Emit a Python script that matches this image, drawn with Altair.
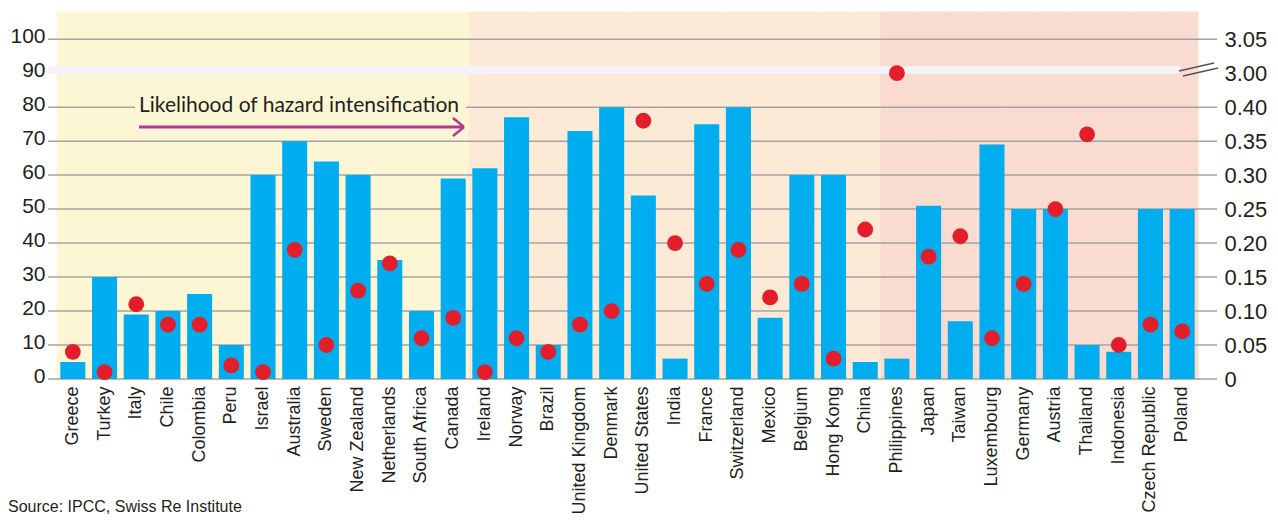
import altair as alt
import pandas as pd

countries = ["Greece", "Turkey", "Italy", "Chile", "Colombia", "Peru", "Israel", "Australia",
             "Sweden", "New Zealand", "Netherlands", "South Africa", "Canada",
             "Ireland", "Norway", "Brazil", "United Kingdom", "Denmark", "United States", "India",
             "France", "Switzerland", "Mexico", "Belgium", "Hong Kong", "China",
             "Philippines", "Japan", "Taiwan", "Luxembourg", "Germany", "Austria", "Thailand",
             "Indonesia", "Czech Republic", "Poland"]
bar_values = [5, 30, 19, 20, 25, 10, 60, 70, 64, 60, 35, 20, 59,
              62, 77, 10, 73, 80, 54, 6, 75, 80, 18, 60, 60, 5,
              6, 51, 17, 69, 50, 50, 10, 8, 50, 50]
dot_values = [0.04, 0.01, 0.11, 0.08, 0.08, 0.02, 0.01, 0.19, 0.05, 0.13, 0.17, 0.06, 0.09,
              0.01, 0.06, 0.04, 0.08, 0.10, 0.38, 0.20, 0.14, 0.19, 0.12, 0.14, 0.03, 0.22,
              3.00, 0.18, 0.21, 0.06, 0.14, 0.25, 0.36, 0.05, 0.08, 0.07]
groups = ["low"] * 13 + ["mid"] * 13 + ["high"] * 10
left_ticks = [0, 10, 20, 30, 40, 50, 60, 70, 80, 90, 100]
grid_values = [0, 10, 20, 30, 40, 50, 60, 70, 80, 100]
right_ticks = [0, 0.05, 0.10, 0.15, 0.20, 0.25, 0.30, 0.35, 0.40, 3.00, 3.05]
annotation = "Likelihood of hazard intensification"
source = "Source: IPCC, Swiss Re Institute"

W, H = 1141, 367
YMAX = 108
px = H / YMAX

SANS = "Liberation Sans, Arial, sans-serif"

df = pd.DataFrame({"country": countries, "bar": bar_values, "dot": dot_values, "group": groups})

x_enc = alt.X("country:N", sort=countries, title=None,
              scale=alt.Scale(paddingInner=0, paddingOuter=0),
              axis=alt.Axis(labelAngle=-90, labelFont=SANS, labelFontSize=18, labelColor="#231F20",
                            labelPadding=7, ticks=False, domain=False, grid=False, labelLimit=300))

left_scale = alt.Scale(domain=[0, YMAX], nice=False, zero=True)
band_colors = alt.Scale(domain=["low", "mid", "high"], range=["#FDF6D5", "#FDEAD6", "#F9DBCF"])

bands = alt.Chart(df).mark_rect(strokeWidth=1).encode(
    x=x_enc,
    y=alt.value(0), y2=alt.value(H),
    fill=alt.Color("group:N", scale=band_colors, legend=None),
    stroke=alt.Color("group:N", scale=band_colors, legend=None),
)

grid = alt.Chart(pd.DataFrame({"g": grid_values})).mark_rule(color="#A3A3A3", strokeWidth=1.5).encode(
    y=alt.Y("g:Q", scale=left_scale, axis=None),
    x=alt.value(-9), x2=alt.value(W + 19),
)

brk = alt.Chart(pd.DataFrame({"a": [1]})).mark_rect(color="#F3F3F8").encode(
    x=alt.value(-9), x2=alt.value(1123), y=alt.value(54), y2=alt.value(62)
)

bars = alt.Chart(df).mark_bar(color="#00ADEE", width=alt.RelativeBandSize(0.79)).encode(
    x=x_enc,
    y=alt.Y("bar:Q", scale=left_scale, title=None,
            axis=alt.Axis(orient="left", values=left_ticks, ticks=False, domain=False, grid=False,
                          labelFont=SANS, labelFontSize=21, labelColor="#231F20",
                          labelPadding=12, labelOffset=-3)),
)

dots = alt.Chart(df).mark_circle(color="#E31E2A", opacity=1, size=250).encode(
    x=x_enc,
    y=alt.Y("dot:Q", title=None,
            scale=alt.Scale(domain=[0, 0.40, 3.00, 3.05], range=[H, H - 80 * px, H - 90 * px, H - 100 * px],
                            nice=False, zero=False),
            axis=alt.Axis(orient="right", values=right_ticks, ticks=False, domain=False, grid=False,
                          labelFont=SANS, labelFontSize=22, labelColor="#231F20", labelPadding=26,
                          labelExpr="datum.value == 0 ? '0' : format(datum.value, '.2f')")),
)

one = pd.DataFrame({"t": [annotation]})
ann_bg = alt.Chart(one).mark_rect(color="#FDF6D5").encode(
    x=alt.value(78), x2=alt.value(409), y=alt.value(82), y2=alt.value(104)
)
ann_text = alt.Chart(one).mark_text(align="left", baseline="alphabetic", font="Lato", fontSize=21,
                                    color="#231F20").encode(
    x=alt.value(82), y=alt.value(100), text="t:N"
)
arrow_line = alt.Chart(pd.DataFrame({"a": [1]})).mark_rule(color="#B5398B", strokeWidth=3).encode(
    x=alt.value(82), x2=alt.value(407), y=alt.value(115), y2=alt.value(115)
)
arrow_head1 = alt.Chart(pd.DataFrame({"a": [1]})).mark_rule(color="#B5398B", strokeWidth=2.5).encode(
    x=alt.value(396), x2=alt.value(407), y=alt.value(106), y2=alt.value(115)
)
arrow_head2 = alt.Chart(pd.DataFrame({"a": [1]})).mark_rule(color="#B5398B", strokeWidth=2.5).encode(
    x=alt.value(396), x2=alt.value(407), y=alt.value(124), y2=alt.value(115)
)
slash1 = alt.Chart(pd.DataFrame({"a": [1]})).mark_rule(color="#555555", strokeWidth=1.3).encode(
    x=alt.value(1122), x2=alt.value(1157), y=alt.value(59), y2=alt.value(51)
)
slash2 = alt.Chart(pd.DataFrame({"a": [1]})).mark_rule(color="#555555", strokeWidth=1.3).encode(
    x=alt.value(1126), x2=alt.value(1161), y=alt.value(64), y2=alt.value(56)
)
src = alt.Chart(pd.DataFrame({"t": [source]})).mark_text(align="left", baseline="middle", font=SANS,
                                                        fontSize=16, color="#231F20").encode(
    x=alt.value(-49), y=alt.value(495), text="t:N"
)

chart = alt.layer(
    bands, grid, brk, bars, dots, ann_bg, ann_text, arrow_line, arrow_head1, arrow_head2,
    slash1, slash2, src
).resolve_scale(y="independent").properties(
    width=W, height=H,
    autosize=alt.AutoSizeParams(type="none"),
    padding={"left": 49, "top": 4, "right": 72, "bottom": 136},
).configure_view(stroke=None)

chart.save("out.html", embed_options={"renderer": "svg", "actions": False})
